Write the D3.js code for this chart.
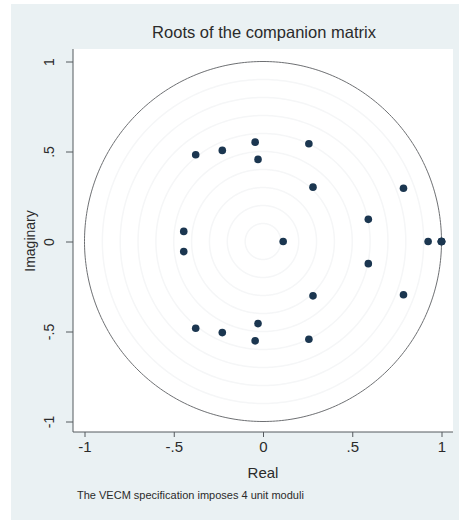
<!DOCTYPE html>
<html>
<head>
<meta charset="utf-8">
<script src="https://cdn.jsdelivr.net/npm/d3@7"></script>
<style>
  body { margin: 0; background: #fff; }
  svg { display: block; font-family: "Liberation Sans", Arial, sans-serif; }
</style>
</head>
<body>
<svg id="chartId" width="459" height="521"></svg>
<script>
// eigenvalues of the companion matrix
const realParts = [-0.377, -0.377, -0.228, -0.228, -0.044, -0.044, -0.028, -0.028,
  0.257, 0.257, 0.280, 0.280, 0.787, 0.787, 0.590, 0.590, -0.444, -0.444,
  0.113, 0.925, 1, 1, 1, 1];
const imagParts = [0.482, -0.482, 0.506, -0.506, 0.552, -0.552, 0.456, -0.456,
  0.543, -0.543, 0.302, -0.302, 0.296, -0.296, 0.123, -0.123, 0.056, -0.056,
  0, 0, 0, 0, 0, 0];
const tickValues = [-1, -0.5, 0, 0.5, 1];
const tickLabels = ["-1", "-.5", "0", ".5", "1"];
const gridRadii = [0.1, 0.2, 0.3, 0.4, 0.5, 0.6, 0.7, 0.8, 0.9];

const data = realParts.map((r, i) => ({ re: r, im: imagParts[i] }));

const svg = d3.select("#chartId");
const plot = { left: 73, right: 453, top: 49, bottom: 432 };

const xScale = d3.scaleLinear().domain([-1, 1]).range([84.5, 441.5]);
const yScale = d3.scaleLinear().domain([-1, 1]).range([421.5, 61.5]);

// outer background
svg.append("rect")
  .attr("x", 11).attr("y", 4).attr("width", 448).attr("height", 516)
  .attr("fill", "#eaf1f3");

// plot region
svg.append("rect")
  .attr("x", plot.left).attr("y", plot.top)
  .attr("width", plot.right - plot.left).attr("height", plot.bottom - plot.top)
  .attr("fill", "#ffffff");

const circlePath = (r) =>
  d3.line()
    .x((t) => xScale(r * Math.cos(t)))
    .y((t) => yScale(r * Math.sin(t)))
    .curve(d3.curveLinearClosed)(d3.range(0, 2 * Math.PI, Math.PI / 180));

// faint concentric grid circles
svg.append("g")
  .selectAll("path")
  .data(gridRadii)
  .enter()
  .append("path")
  .attr("d", (d) => circlePath(d))
  .attr("fill", "none")
  .attr("stroke", "#f5f6f7")
  .attr("stroke-width", 1.5);

// unit circle
svg.append("path")
  .attr("d", circlePath(1))
  .attr("fill", "none")
  .attr("stroke", "#6e7073")
  .attr("stroke-width", 1);

// axes
const xAxis = d3.axisBottom(xScale)
  .tickValues(tickValues)
  .tickFormat((d, i) => tickLabels[i])
  .tickSize(5)
  .tickPadding(4);
const xAxisG = svg.append("g")
  .attr("transform", `translate(0, ${plot.bottom})`)
  .call(xAxis);
xAxisG.select(".domain").attr("d", `M${plot.left},0H${plot.right}`);

const yAxis = d3.axisLeft(yScale)
  .tickValues(tickValues)
  .tickFormat((d, i) => tickLabels[i])
  .tickSize(7);
const yAxisG = svg.append("g")
  .attr("transform", `translate(${plot.left}, 0)`)
  .call(yAxis);
yAxisG.select(".domain").attr("d", `M0,${plot.top}V${plot.bottom}`);
yAxisG.selectAll(".tick text")
  .attr("x", null).attr("dy", null)
  .attr("text-anchor", "middle")
  .attr("transform", "translate(-19, 0) rotate(-90)");

svg.selectAll(".domain, .tick line").attr("stroke", "#555a5e");
svg.selectAll(".tick text")
  .attr("font-size", 14)
  .attr("fill", "#2b2b2b")
  .attr("font-family", "Liberation Sans, Arial, sans-serif");
xAxisG.selectAll(".tick text").attr("font-size", 15);

// roots
svg.append("g")
  .selectAll("circle")
  .data(data)
  .enter()
  .append("circle")
  .attr("cx", (d) => xScale(d.re))
  .attr("cy", (d) => yScale(d.im))
  .attr("r", 3.8)
  .attr("fill", "#1b3650");

// titles
svg.append("text")
  .attr("x", 264).attr("y", 38)
  .attr("text-anchor", "middle")
  .attr("font-size", 16.5)
  .attr("fill", "#2b2b2b")
  .text("Roots of the companion matrix");

svg.append("text")
  .attr("x", 263).attr("y", 478)
  .attr("text-anchor", "middle")
  .attr("font-size", 15)
  .attr("fill", "#2b2b2b")
  .text("Real");

svg.append("text")
  .attr("transform", "translate(35, 241) rotate(-90)")
  .attr("text-anchor", "middle")
  .attr("font-size", 14)
  .attr("fill", "#2b2b2b")
  .text("Imaginary");

svg.append("text")
  .attr("x", 77).attr("y", 499)
  .attr("font-size", 11)
  .attr("fill", "#2b2b2b")
  .text("The VECM specification imposes 4 unit moduli");
</script>
</body>
</html>
